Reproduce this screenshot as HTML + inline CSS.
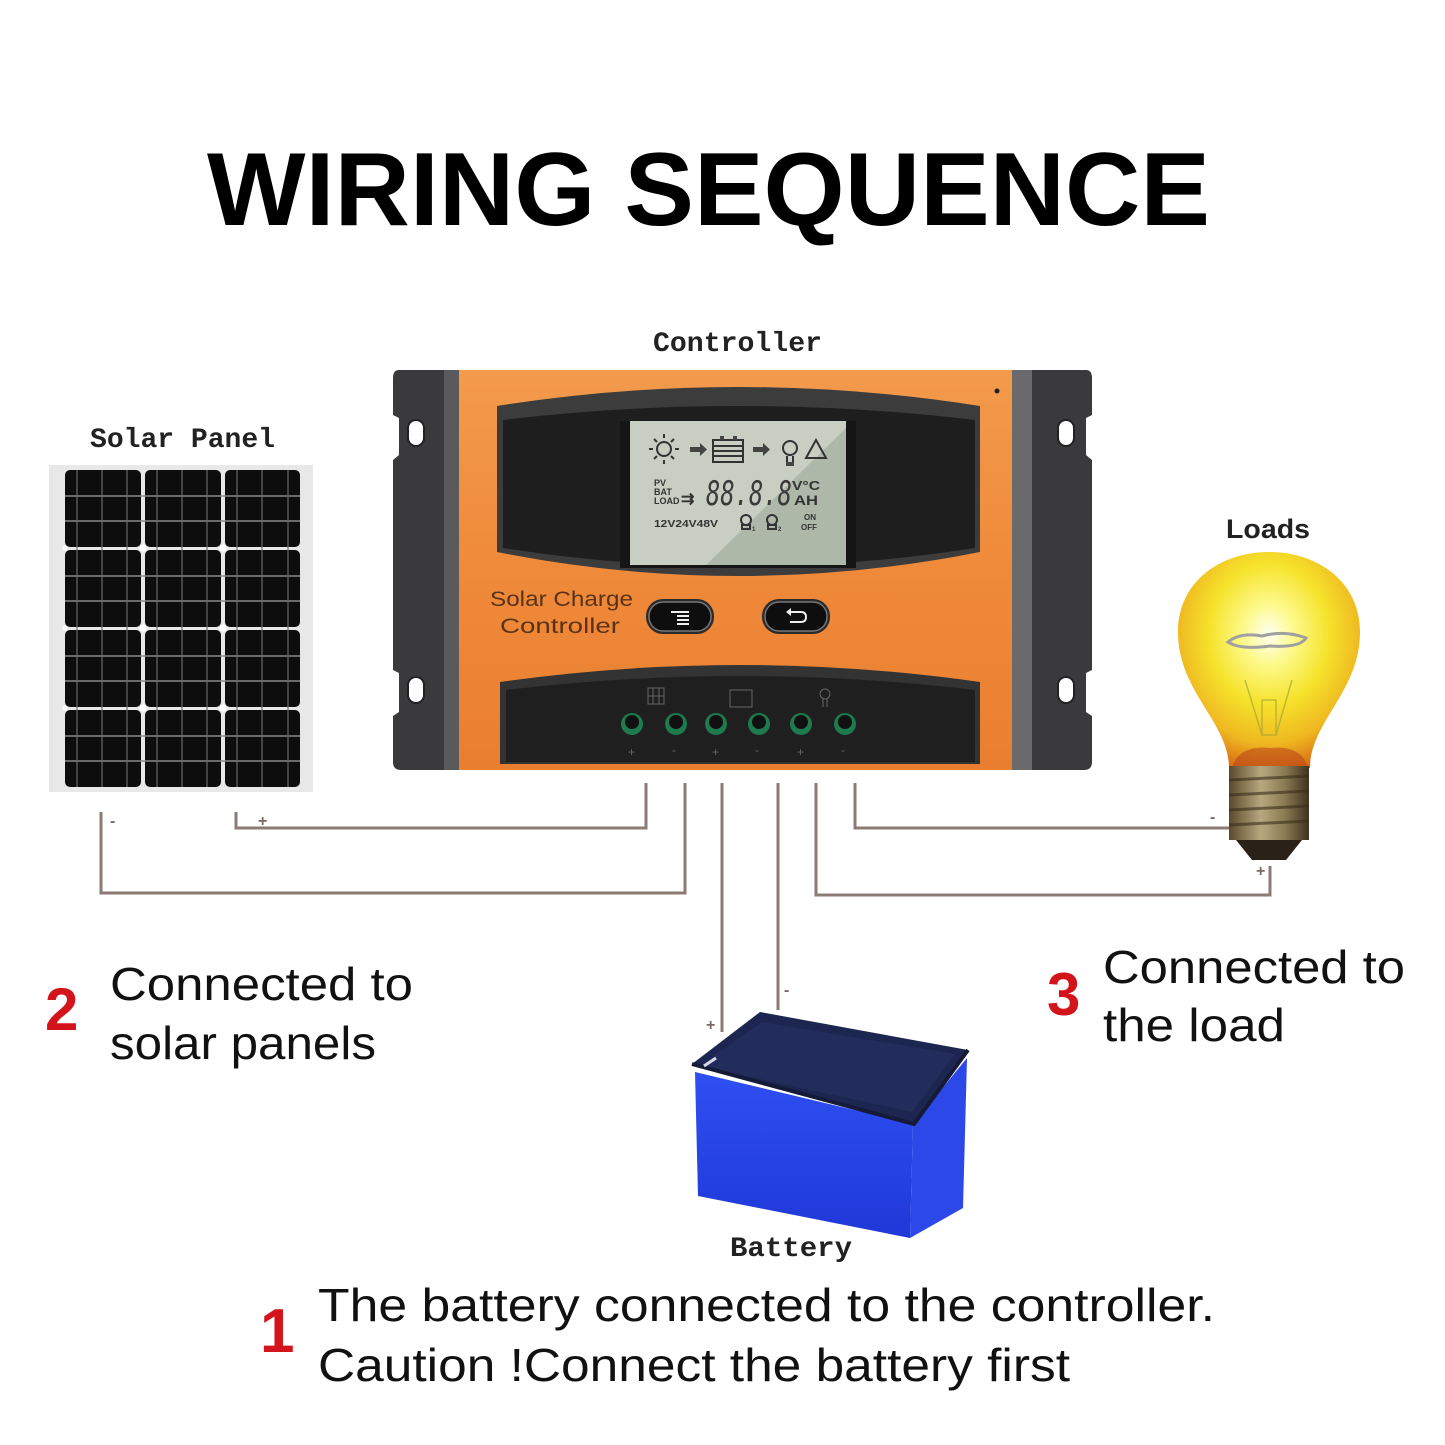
<!DOCTYPE html>
<html><head><meta charset="utf-8"><style>
html,body{margin:0;padding:0;background:#fff;}
svg{display:block;}
</style></head><body>
<svg width="1445" height="1445" viewBox="0 0 1445 1445" xmlns="http://www.w3.org/2000/svg">
<defs>
<linearGradient id="org" x1="0" y1="0" x2="0" y2="1">
<stop offset="0" stop-color="#f39a4c"/><stop offset="0.5" stop-color="#ef8a3a"/><stop offset="1" stop-color="#ea7e30"/>
</linearGradient>
<radialGradient id="bulb" cx="0.5" cy="0.38" r="0.65">
<stop offset="0" stop-color="#fffff2"/><stop offset="0.22" stop-color="#fdf98a"/><stop offset="0.5" stop-color="#f6e32c"/><stop offset="0.78" stop-color="#efb820"/><stop offset="1" stop-color="#d86a14"/>
</radialGradient>
<linearGradient id="base" x1="0" y1="0" x2="1" y2="0">
<stop offset="0" stop-color="#5a4a2a"/><stop offset="0.4" stop-color="#b8a880"/><stop offset="0.7" stop-color="#8a7a52"/><stop offset="1" stop-color="#3e3220"/>
</linearGradient>
<linearGradient id="batf" x1="0" y1="0" x2="0" y2="1">
<stop offset="0" stop-color="#2f4ff2"/><stop offset="1" stop-color="#1f38d8"/>
</linearGradient>
</defs>

<rect width="1445" height="1445" fill="#ffffff"/>

<!-- Title -->
<text x="207" y="225" font-family="Liberation Sans, sans-serif" font-weight="bold" font-size="104" textLength="1003" lengthAdjust="spacingAndGlyphs" fill="#000">WIRING SEQUENCE</text>

<!-- Labels -->
<text x="653" y="351" font-family="Liberation Mono, monospace" font-weight="bold" font-size="28" textLength="169" lengthAdjust="spacingAndGlyphs" fill="#222">Controller</text>
<text x="90" y="447" font-family="Liberation Mono, monospace" font-weight="bold" font-size="28" textLength="185" lengthAdjust="spacingAndGlyphs" fill="#222">Solar Panel</text>
<text x="1226" y="538" font-family="Liberation Sans, sans-serif" font-weight="bold" font-size="27" textLength="84" lengthAdjust="spacingAndGlyphs" fill="#222">Loads</text>
<text x="730" y="1256" font-family="Liberation Mono, monospace" font-weight="bold" font-size="28" textLength="122" lengthAdjust="spacingAndGlyphs" fill="#222">Battery</text>

<!-- Wires -->
<g fill="none" stroke="#8c7b75" stroke-width="3">
<polyline points="646,783 646,828 236,828 236,812"/>
<polyline points="685,783 685,893 101,893 101,812"/>
<polyline points="722,783 722,1032"/>
<polyline points="778,783 778,1010"/>
<polyline points="816,783 816,895 1270,895 1270,866"/>
<polyline points="855,783 855,828 1230,828"/>
</g>
<g font-family="Liberation Sans, sans-serif" font-size="16" fill="#7a6a64" font-weight="bold">
<text x="258" y="826">+</text>
<text x="110" y="826">-</text>
<text x="706" y="1030">+</text>
<text x="784" y="995">-</text>
<text x="1256" y="876">+</text>
<text x="1210" y="822">-</text>
</g>

<!-- Solar panel -->
<rect x="49" y="465" width="264" height="327" fill="#e8e8e8"/>
<g fill="#0d0d0d">
<rect x="65" y="470" width="76" height="77" rx="5"/><rect x="145" y="470" width="76" height="77" rx="5"/><rect x="225" y="470" width="75" height="77" rx="5"/>
<rect x="65" y="550" width="76" height="77" rx="5"/><rect x="145" y="550" width="76" height="77" rx="5"/><rect x="225" y="550" width="75" height="77" rx="5"/>
<rect x="65" y="630" width="76" height="77" rx="5"/><rect x="145" y="630" width="76" height="77" rx="5"/><rect x="225" y="630" width="75" height="77" rx="5"/>
<rect x="65" y="710" width="76" height="77" rx="5"/><rect x="145" y="710" width="76" height="77" rx="5"/><rect x="225" y="710" width="75" height="77" rx="5"/>
</g>
<g stroke="#8a8a8a" stroke-width="1.5">
<line x1="65" y1="496" x2="300" y2="496"/><line x1="65" y1="521" x2="300" y2="521"/>
<line x1="65" y1="576" x2="300" y2="576"/><line x1="65" y1="601" x2="300" y2="601"/>
<line x1="65" y1="656" x2="300" y2="656"/><line x1="65" y1="681" x2="300" y2="681"/>
<line x1="65" y1="736" x2="300" y2="736"/><line x1="65" y1="761" x2="300" y2="761"/>
</g>
<g stroke="#6a6a6a" stroke-width="1.2">
<line x1="77" y1="470" x2="77" y2="787"/><line x1="102" y1="470" x2="102" y2="787"/><line x1="127" y1="470" x2="127" y2="787"/>
<line x1="157" y1="470" x2="157" y2="787"/><line x1="182" y1="470" x2="182" y2="787"/><line x1="207" y1="470" x2="207" y2="787"/>
<line x1="237" y1="470" x2="237" y2="787"/><line x1="262" y1="470" x2="262" y2="787"/><line x1="288" y1="470" x2="288" y2="787"/>
</g>
<g fill="#fff">
<circle cx="143" cy="548" r="3.5"/><circle cx="223" cy="548" r="3.5"/>
<circle cx="143" cy="628" r="3.5"/><circle cx="223" cy="628" r="3.5"/>
<circle cx="143" cy="708" r="3.5"/><circle cx="223" cy="708" r="3.5"/>
<circle cx="65" cy="548" r="2.5"/><circle cx="65" cy="628" r="2.5"/><circle cx="65" cy="708" r="2.5"/>
</g>

<!-- Controller body -->
<path d="M399 370 L1086 370 Q1092 370 1092 378 L1092 415 L1086 418 L1086 455 L1092 460 L1092 670 L1086 673 L1086 712 L1092 716 L1092 762 Q1092 770 1084 770 L401 770 Q393 770 393 762 L393 716 L399 712 L399 673 L393 670 L393 460 L399 455 L399 418 L393 415 L393 378 Q393 370 399 370 Z" fill="#3a3a3c"/>
<rect x="444" y="370" width="16" height="400" fill="#5a5a5c"/>
<rect x="1012" y="370" width="20" height="400" fill="#6a6a6c"/>
<!-- mounting holes -->
<g fill="#fff" stroke="#222" stroke-width="2">
<rect x="408" y="420" width="16" height="26" rx="8"/>
<rect x="408" y="677" width="16" height="26" rx="8"/>
<rect x="1058" y="420" width="16" height="26" rx="8"/>
<rect x="1058" y="677" width="16" height="26" rx="8"/>
</g>
<!-- orange face -->
<rect x="459" y="370" width="553" height="400" fill="url(#org)"/>
<circle cx="997" cy="391" r="2.5" fill="#222"/>
<!-- upper window -->
<path d="M497 406 Q738 368 980 406 L980 552 Q738 600 497 552 Z" fill="#3c3c3d"/>
<path d="M503 420 Q738 392 975 420 L975 548 Q738 585 503 548 Z" fill="#1e1e1f"/>
<path d="M620 421 L856 421 L856 568 L620 568 Z" fill="#151515"/>
<!-- LCD -->
<rect x="630" y="421" width="216" height="144" fill="#c9cec3"/>
<polygon points="846,428 846,565 706,565" fill="#aeb8a9"/>
<g stroke="#333" stroke-width="2" fill="none">
<circle cx="664" cy="449" r="7"/>
<line x1="664" y1="434" x2="664" y2="438"/><line x1="664" y1="460" x2="664" y2="464"/>
<line x1="649" y1="449" x2="653" y2="449"/><line x1="675" y1="449" x2="679" y2="449"/>
<line x1="654" y1="439" x2="657" y2="442"/><line x1="671" y1="456" x2="674" y2="459"/>
<line x1="674" y1="439" x2="671" y2="442"/><line x1="654" y1="459" x2="657" y2="456"/>
<rect x="713" y="440" width="30" height="22"/>
<line x1="713" y1="446" x2="743" y2="446"/><line x1="713" y1="451" x2="743" y2="451"/><line x1="713" y1="456" x2="743" y2="456"/>
<circle cx="790" cy="448" r="7"/><line x1="787" y1="456" x2="787" y2="462"/><line x1="793" y1="456" x2="793" y2="462"/>
<polygon points="816,440 826,458 806,458"/>
<circle cx="746" cy="520" r="5"/><rect x="742" y="525" width="8" height="4"/>
<circle cx="772" cy="520" r="5"/><rect x="768" y="525" width="8" height="4"/>
</g>
<g fill="#444">
<rect x="690" y="447" width="11" height="5"/><polygon points="700,443 707,449.5 700,456"/>
<rect x="753" y="447" width="11" height="5"/><polygon points="763,443 770,449.5 763,456"/>
<rect x="720" y="436" width="4" height="4"/><rect x="733" y="436" width="4" height="4"/>
<rect x="786" y="462" width="8" height="4"/>
</g>
<g font-family="Liberation Sans, sans-serif" font-weight="bold" fill="#333">
<text x="654" y="486" font-size="9">PV</text>
<text x="654" y="495" font-size="9">BAT</text>
<text x="654" y="504" font-size="9">LOAD</text>
<text x="681" y="504" font-size="16">⇉</text>
<text x="706" y="505" font-family="DejaVu Sans Mono, monospace" font-style="italic" font-size="34" font-weight="normal" fill="#3a3a3a" textLength="86" lengthAdjust="spacingAndGlyphs">88.8.8</text>
<text x="792" y="490" font-size="13" textLength="28" lengthAdjust="spacingAndGlyphs">V°C</text>
<text x="794" y="505" font-size="14" textLength="24" lengthAdjust="spacingAndGlyphs">AH</text>
<text x="654" y="527" font-size="10" textLength="64" lengthAdjust="spacingAndGlyphs">12V24V48V</text>
<text x="752" y="531" font-size="6">1</text>
<text x="778" y="531" font-size="6">2</text>
<text x="804" y="520" font-size="8">ON</text>
<text x="801" y="530" font-size="8">OFF</text>
</g>
<!-- text on controller -->
<g font-family="Liberation Sans, sans-serif" fill="#5a3218" font-size="21">
<text x="490" y="606" textLength="143" lengthAdjust="spacingAndGlyphs">Solar Charge</text>
<text x="500" y="633" textLength="120" lengthAdjust="spacingAndGlyphs">Controller</text>
</g>
<!-- buttons -->
<rect x="646" y="599" width="68" height="35" rx="17" fill="#2a2a2a"/>
<rect x="649" y="602" width="62" height="29" rx="14" fill="#0e0e0e" stroke="#777" stroke-width="1.5"/>
<rect x="762" y="599" width="68" height="35" rx="17" fill="#2a2a2a"/>
<rect x="765" y="602" width="62" height="29" rx="14" fill="#0e0e0e" stroke="#777" stroke-width="1.5"/>
<g stroke="#eee" stroke-width="2">
<line x1="671" y1="612" x2="689" y2="612"/><line x1="677" y1="616" x2="689" y2="616"/><line x1="677" y1="620" x2="689" y2="620"/><line x1="677" y1="624" x2="689" y2="624"/>
</g>
<path d="M788 612 L801 612 Q806 612 806 617 Q806 622 801 622 L790 622" fill="none" stroke="#eee" stroke-width="2"/>
<polygon points="786,612 791,608 791,616" fill="#eee"/>
<!-- lower window -->
<path d="M500 682 Q740 648 980 682 L980 764 L500 764 Z" fill="#333334"/>
<path d="M506 690 Q740 662 975 690 L975 762 L506 762 Z" fill="#1f1f20"/>
<g stroke="#777" stroke-width="1" fill="none" opacity="0.8">
<rect x="648" y="688" width="16" height="16"/><line x1="653" y1="688" x2="653" y2="704"/><line x1="659" y1="688" x2="659" y2="704"/><line x1="648" y1="696" x2="664" y2="696"/>
<rect x="730" y="690" width="22" height="17"/>
<circle cx="825" cy="694" r="5"/><line x1="823" y1="699" x2="823" y2="707"/><line x1="827" y1="699" x2="827" y2="707"/>
</g>
<g>
<circle cx="632" cy="724" r="11" fill="#1f7a4e"/><circle cx="632" cy="722" r="7" fill="#111"/>
<circle cx="676" cy="724" r="11" fill="#1f7a4e"/><circle cx="676" cy="722" r="7" fill="#111"/>
<circle cx="716" cy="724" r="11" fill="#1f7a4e"/><circle cx="716" cy="722" r="7" fill="#111"/>
<circle cx="759" cy="724" r="11" fill="#1f7a4e"/><circle cx="759" cy="722" r="7" fill="#111"/>
<circle cx="801" cy="724" r="11" fill="#1f7a4e"/><circle cx="801" cy="722" r="7" fill="#111"/>
<circle cx="845" cy="724" r="11" fill="#1f7a4e"/><circle cx="845" cy="722" r="7" fill="#111"/>
</g>
<g font-family="Liberation Sans, sans-serif" font-size="12" fill="#666">
<text x="628" y="756">+</text><text x="672" y="754">-</text><text x="712" y="756">+</text><text x="755" y="754">-</text><text x="797" y="756">+</text><text x="841" y="754">-</text>
</g>

<!-- Bulb -->
<path d="M1229 768 C1229 722 1178 692 1178 632 C1178 582 1220 552 1269 552 C1318 552 1360 582 1360 632 C1360 692 1310 722 1310 768 Z" fill="url(#bulb)"/>
<path d="M1232 768 C1236 752 1250 746 1270 748 C1290 746 1304 752 1308 768 Z" fill="#b8401a" opacity="0.55"/>
<path d="M1228 642 Q1240 632 1262 636 Q1285 630 1306 638 Q1300 648 1270 646 Q1240 650 1228 642 Z" fill="none" stroke="#a0a0a0" stroke-width="3"/>
<g stroke="#a8a838" stroke-width="1.5" fill="none" opacity="0.7">
<line x1="1245" y1="680" x2="1262" y2="735"/><line x1="1292" y1="680" x2="1276" y2="735"/>
<rect x="1262" y="700" width="14" height="35"/>
</g>
<rect x="1229" y="766" width="80" height="74" fill="url(#base)"/>
<g stroke="#3a2e1c" stroke-width="3" opacity="0.6">
<line x1="1229" y1="780" x2="1309" y2="776"/><line x1="1229" y1="795" x2="1309" y2="791"/><line x1="1229" y1="810" x2="1309" y2="806"/><line x1="1229" y1="825" x2="1309" y2="821"/>
</g>
<path d="M1236 840 L1302 840 L1286 860 L1252 860 Z" fill="#2a2218"/>

<!-- Battery -->
<polygon points="695,1072 913,1124 910,1238 698,1196" fill="url(#batf)"/>
<polygon points="913,1124 967,1058 963,1208 910,1238" fill="#2c48e8"/>
<polygon points="692,1064 760,1012 968,1050 914,1124" fill="#1d2650"/>
<polygon points="700,1066 762,1022 955,1054 912,1112" fill="#232d5c"/>
<polyline points="692,1064 914,1124 968,1050" fill="none" stroke="#141a38" stroke-width="4"/>
<path d="M704 1066 L716 1058" stroke="#d8d8e8" stroke-width="3"/>

<!-- Step texts -->
<g font-family="Liberation Sans, sans-serif" font-weight="bold" fill="#d3151b">
<text x="45" y="1030" font-size="60">2</text>
<text x="1047" y="1015" font-size="60">3</text>
<text x="260" y="1352" font-size="62">1</text>
</g>
<g font-family="Liberation Sans, sans-serif" fill="#111" font-size="46">
<text x="110" y="1000" textLength="303" lengthAdjust="spacingAndGlyphs">Connected to</text>
<text x="110" y="1059" textLength="266" lengthAdjust="spacingAndGlyphs">solar panels</text>
<text x="1103" y="983" textLength="302" lengthAdjust="spacingAndGlyphs">Connected to</text>
<text x="1103" y="1041" textLength="182" lengthAdjust="spacingAndGlyphs">the load</text>
<text x="318" y="1321" textLength="897" lengthAdjust="spacingAndGlyphs">The battery connected to the controller.</text>
<text x="318" y="1381" textLength="752" lengthAdjust="spacingAndGlyphs">Caution !Connect the battery first</text>
</g>
</svg>
</body></html>
